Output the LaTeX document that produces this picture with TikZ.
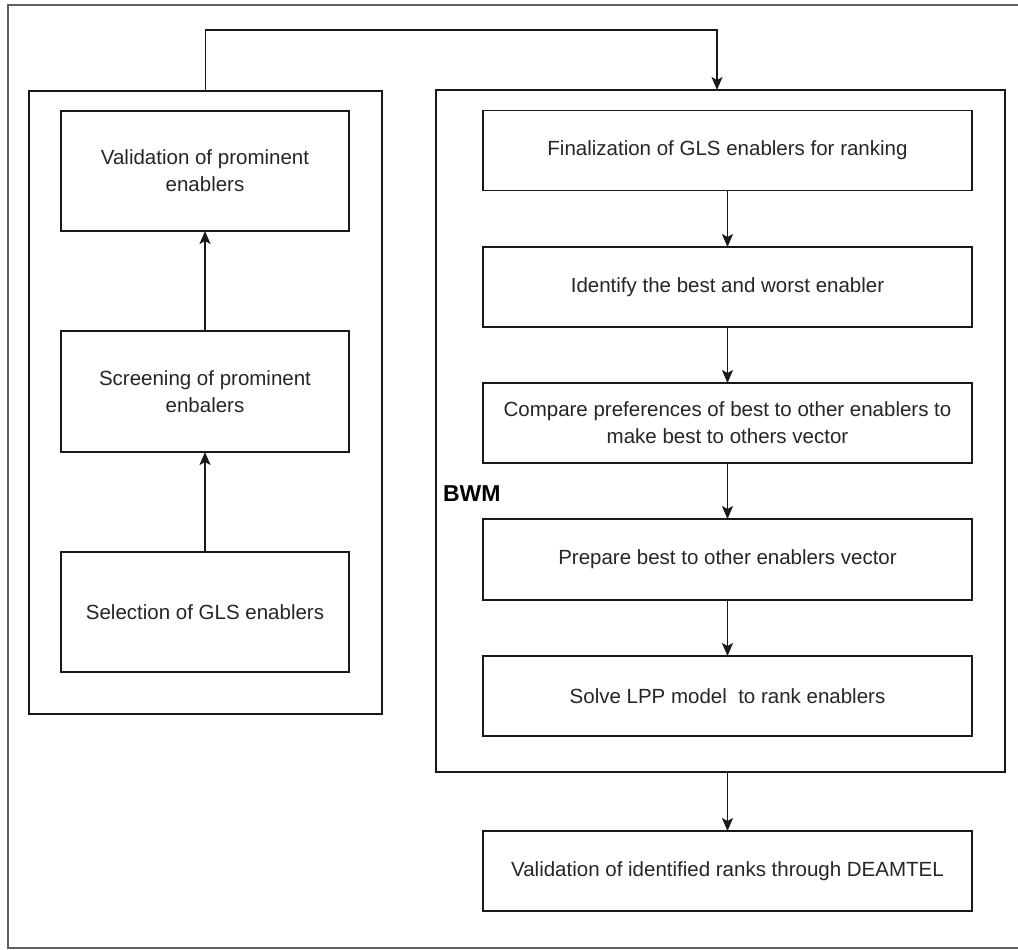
\documentclass[tikz,border=0pt]{standalone}
\usepackage{fontspec}
\setmainfont{Liberation Sans}
\usetikzlibrary{arrows.meta}
\begin{document}
\begin{tikzpicture}[x=1pt,y=-1pt,
  every node/.style={inner sep=0pt, outer sep=0pt},
  panel/.style={draw=black!90, line width=1.3pt, rectangle, anchor=north west},
  stepbox/.style={draw=black!90, line width=1.3pt, rectangle, align=center,
    font=\fontsize{20.5}{27}\selectfont, text=black!85},
  arr/.style={line width=1.3pt, draw=black!90, -{Stealth[length=13pt,width=11pt,inset=3pt]}},
]
\useasboundingbox (0,0) rectangle (1018,950);
\fill[white] (0,0) rectangle (1018,950);
% outer frame (right side runs off the picture)
\draw[gray!75!black, line width=1.2pt] (1030,5) -- (8,5) -- (8,948) -- (1030,948);

% panels
\node[panel, minimum width=353pt, minimum height=623pt] (lp) at (29,91) {};
\node[panel, minimum width=569pt, minimum height=682pt] (rp) at (436,90) {};

% left column
\node[stepbox, minimum width=288pt, minimum height=120pt] (v1) at (205,171) {Validation of prominent\\enablers};
\node[stepbox, minimum width=288pt, minimum height=121pt] (sc) at (205,391.5) {Screening of prominent\\enbalers};
\node[stepbox, minimum width=288pt, minimum height=120pt] (se) at (205,612) {Selection of GLS enablers};

% right column
\node[stepbox, minimum width=489pt, minimum height=80pt] (fi) at (727.5,150.5) {Finalization of GLS enablers for ranking};
\node[stepbox, minimum width=489pt, minimum height=80pt] (id) at (727.5,287) {Identify the best and worst enabler};
\node[stepbox, minimum width=489pt, minimum height=80pt] (co) at (727.5,423) {Compare preferences of best to other enablers to\\make best to others vector};
\node[stepbox, minimum width=489pt, minimum height=81pt] (pr) at (727.5,559.5) {Prepare best to other enablers vector};
\node[stepbox, minimum width=489pt, minimum height=80pt] (so) at (727.5,696) {Solve LPP model~\ to rank enablers};
\node[stepbox, minimum width=489pt, minimum height=80pt] (de) at (727.5,871) {Validation of identified ranks through DEAMTEL};

\node[anchor=west, font=\fontsize{23}{23}\bfseries\selectfont, text=black] (bwm) at (443,494) {BWM};

% connectors
\draw[arr] (se.north) -- (sc.south);
\draw[arr] (sc.north) -- (v1.south);
\draw[arr] (fi.south) -- (id.north);
\draw[arr] (id.south) -- (co.north);
\draw[arr] (co.south) -- (pr.north);
\draw[arr] (pr.south) -- (so.north);
\draw[arr] (de.north |- rp.south) -- (de.north);
\draw[arr] (lp.north) -- ++(0,-61) -| ([xshift=-3.5pt]rp.north);
\end{tikzpicture}
\end{document}
